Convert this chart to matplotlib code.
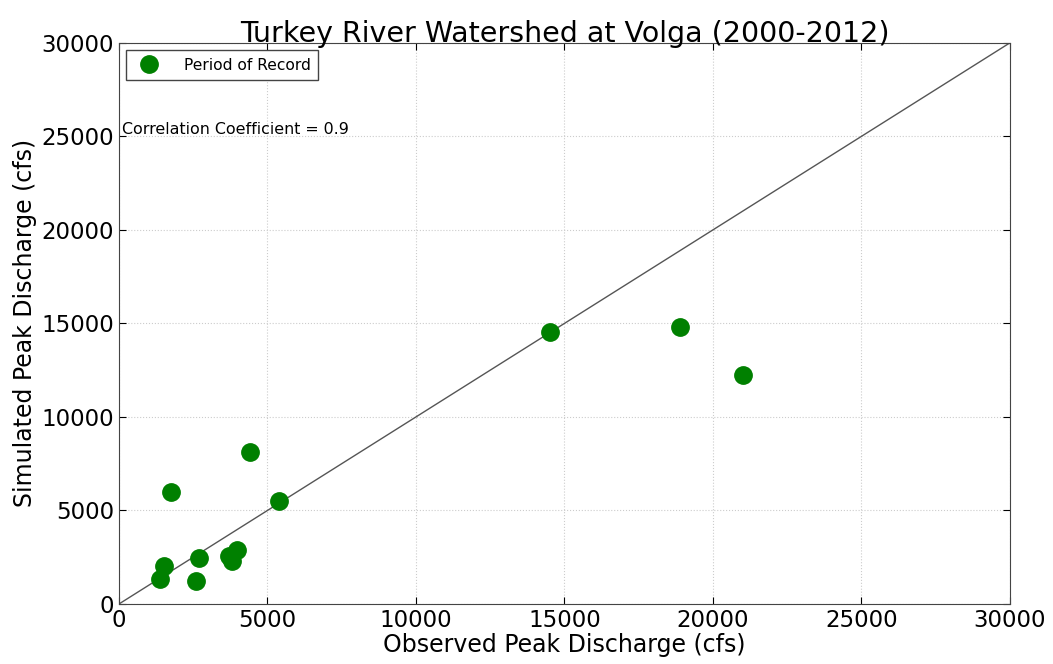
import matplotlib
matplotlib.use('Agg')
import matplotlib.pyplot as plt

# observed vs simulated peak discharge (cfs)
observed = [1750, 4400, 5400, 1520, 1380, 2700, 2600, 3980, 3700, 3800, 14500, 18900, 21000]
simulated = [6000, 8150, 5500, 2050, 1350, 2450, 1250, 2900, 2550, 2300, 14550, 14800, 12250]
ticks = [0, 5000, 10000, 15000, 20000, 25000, 30000]

matplotlib.rc("font", family="DejaVu Sans")
fig = plt.figure(figsize=(10.53, 6.64), dpi=100)
ax = fig.add_axes([0.113, 0.0904, 0.846, 0.845])

ax.plot([0, 30000], [0, 30000], color='#555555', linewidth=1.0, zorder=2)
ax.plot(observed, simulated, 'o', color='green', markeredgecolor='green',
        markersize=12.5, label='Period of Record', zorder=3)

ax.set_xlim(0, 30000)
ax.set_ylim(0, 30000)
ax.set_xticks(ticks)
ax.set_yticks(ticks)
ax.tick_params(direction='in', labelsize=16.5, length=5, top=True, right=True)
ax.grid(True, linestyle=':', color='#cccccc', linewidth=0.8)
for s in ax.spines.values():
    s.set_color('#444444')

ax.set_xlabel('Observed Peak Discharge (cfs)', fontsize=17, labelpad=1)
ax.set_ylabel('Simulated Peak Discharge (cfs)', fontsize=17, labelpad=3)
ax.set_title('Turkey River Watershed at Volga (2000-2012)', fontsize=20.5, pad=1)

ax.text(100, 25350, 'Correlation Coefficient = 0.9', fontsize=11.4, va='center', ha='left')
ax.legend(loc='upper left', numpoints=1, fontsize=11.2, fancybox=False,
          framealpha=1, edgecolor='#444444', borderpad=0.5, handletextpad=1.2,
          borderaxespad=0.45)

plt.savefig('out.png', dpi=100)
